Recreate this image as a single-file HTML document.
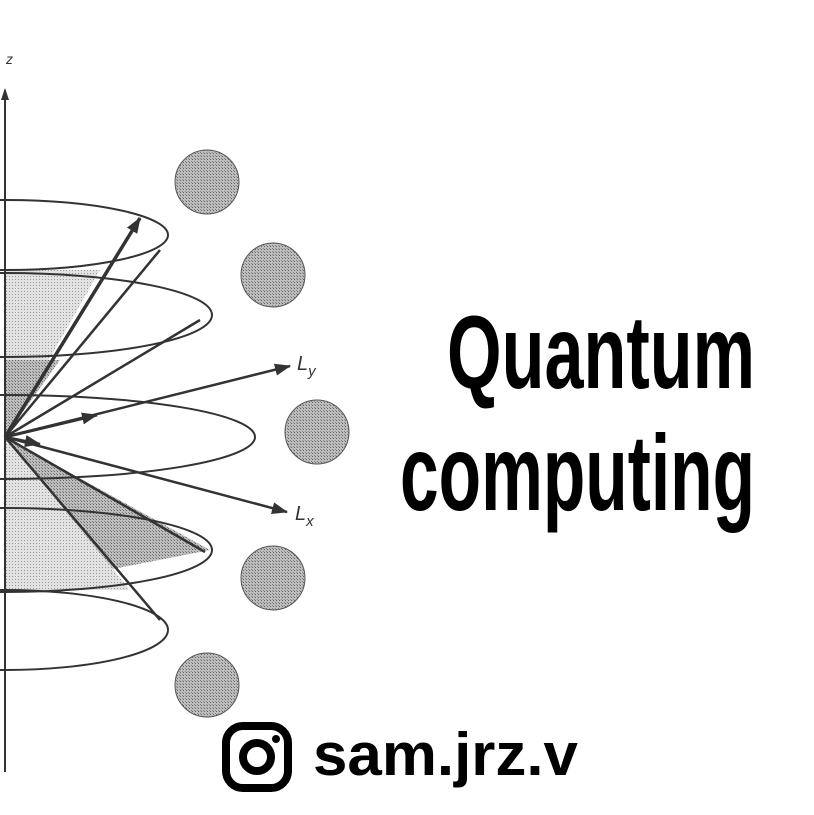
<!DOCTYPE html>
<html><head><meta charset="utf-8"><style>
html,body{margin:0;padding:0;background:#fff;}
svg{display:block}
</style></head><body>
<svg width="814" height="815" viewBox="0 0 814 815" xmlns="http://www.w3.org/2000/svg">
<defs>
<pattern id="dots" width="3" height="3" patternUnits="userSpaceOnUse">
<rect width="3" height="3" fill="#bdbdbd"/><rect width="1" height="1" fill="#666"/><rect x="2" y="2" width="1" height="1" fill="#888"/>
</pattern>
<pattern id="dots2" width="3" height="3" patternUnits="userSpaceOnUse">
<rect width="3" height="3" fill="#e2e2e2"/><rect width="1" height="1" fill="#999"/>
</pattern>
<marker id="ah" markerWidth="16" markerHeight="12" refX="15" refY="6" orient="auto" markerUnits="userSpaceOnUse">
<path d="M0,0 L16,6 L0,12 z" fill="#333"/>
</marker>
</defs>
<rect width="814" height="815" fill="#fff"/>
<polygon points="5,270 100,270 5,437" fill="url(#dots2)"/>
<polygon points="5,360 60,360 5,437" fill="url(#dots)"/>
<polygon points="5,437 210,550 5,590" fill="url(#dots)"/>
<polygon points="5,437 130,590 5,590" fill="url(#dots2)"/>
<line x1="5" y1="90" x2="5" y2="772" stroke="#333" stroke-width="2"/>
<path d="M1,100 L5,88 L9,100z" fill="#333"/>
<text x="6" y="64" font-family="Liberation Sans, sans-serif" font-style="italic" font-size="14" fill="#333">z</text>
<g fill="none" stroke="#333" stroke-width="2">
<ellipse cx="5" cy="235" rx="163" ry="35"/>
<ellipse cx="5" cy="315" rx="207" ry="42"/>
<ellipse cx="5" cy="437" rx="250" ry="42"/>
<ellipse cx="5" cy="550" rx="207" ry="42"/>
<ellipse cx="5" cy="630" rx="163" ry="40"/>
</g>
<g stroke="#333" stroke-width="2.5" fill="none">
<line x1="5" y1="437" x2="160" y2="250"/>
<line x1="5" y1="437" x2="200" y2="320"/>
<line x1="5" y1="437" x2="205" y2="552"/>
<line x1="5" y1="437" x2="160" y2="620"/>
</g>
<g stroke="#333" fill="none" marker-end="url(#ah)">
<line x1="5" y1="437" x2="140" y2="218" stroke-width="3.5"/>
<line x1="5" y1="437" x2="290" y2="366" stroke-width="2.5"/>
<line x1="5" y1="437" x2="97" y2="415" stroke-width="3"/>
<line x1="5" y1="437" x2="287" y2="512" stroke-width="2.5"/>
<line x1="5" y1="437" x2="40" y2="444" stroke-width="2.5"/>
</g>
<text x="297" y="370" font-family="Liberation Sans, sans-serif" font-style="italic" font-size="20" fill="#333">L<tspan font-size="15" dy="6">y</tspan></text>
<text x="295" y="520" font-family="Liberation Sans, sans-serif" font-style="italic" font-size="20" fill="#333">L<tspan font-size="15" dy="6">x</tspan></text>
<g fill="url(#dots)" stroke="#555" stroke-width="1">
<circle cx="207" cy="182" r="32"/>
<circle cx="273" cy="275" r="32"/>
<circle cx="317" cy="432" r="32"/>
<circle cx="273" cy="578" r="32"/>
<circle cx="207" cy="685" r="32"/>
</g>
<text x="755" y="388" text-anchor="end" font-family="Liberation Sans Narrow, Liberation Sans, sans-serif" font-weight="bold" font-size="104" textLength="308" lengthAdjust="spacingAndGlyphs" fill="#000">Quantum</text>
<text x="755" y="510" text-anchor="end" font-family="Liberation Sans Narrow, Liberation Sans, sans-serif" font-weight="bold" font-size="108" textLength="355" lengthAdjust="spacingAndGlyphs" fill="#000">computing</text>
<rect x="226" y="726" width="62" height="62" rx="17" fill="none" stroke="#000" stroke-width="8"/>
<circle cx="257" cy="757" r="14" fill="none" stroke="#000" stroke-width="8"/>
<circle cx="276" cy="739" r="4" fill="#000"/>
<text x="313" y="775" font-family="Liberation Sans, sans-serif" font-weight="bold" font-size="60" textLength="265" lengthAdjust="spacingAndGlyphs" fill="#000">sam.jrz.v</text>
</svg>
</body></html>
